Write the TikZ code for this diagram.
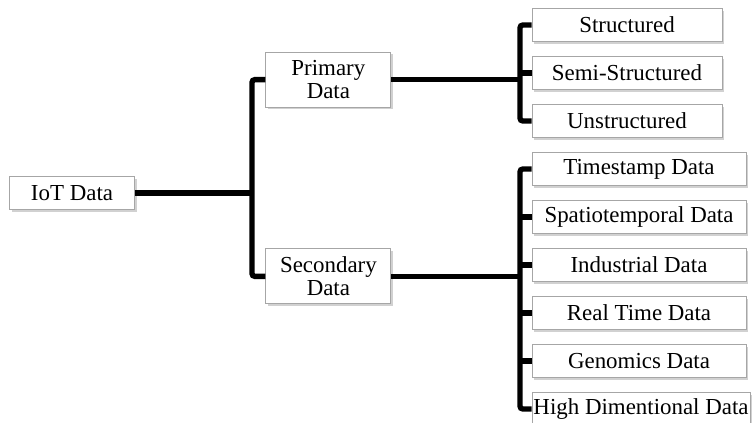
\documentclass[tikz,border=0pt]{standalone}
\usepackage{fontspec}
\setmainfont{Liberation Serif}
\usetikzlibrary{shadows}

\tikzset{
  box/.style={draw=gray!70, fill=white, line width=0.6pt, align=center, inner sep=1pt,
    font=\fontsize{16.3}{16}\selectfont,
    drop shadow={shadow xshift=1.5pt, shadow yshift=-1.5pt, fill=gray!60, opacity=0.6}},
  mid/.style={box, minimum width=3.125cm, minimum height=1.375cm},
  leaf/.style={box, minimum height=0.825cm},
  link/.style={line width=3.8pt, rounded corners=2pt},
}

\begin{document}
\begin{tikzpicture}
                \useasboundingbox (0,0) rectangle (18.8,-10.575);
                \node[box, minimum width=3.125cm, minimum height=0.825cm] (o) at (1.8, -4.825) {IoT Data};
                \node[mid] (ol) at (8.21, -1.99) {Primary\\Data};
                \node[mid] (or) at (8.21, -6.91) {Secondary\\Data};
                \node[leaf, minimum width=4.75cm] (ol1) at (15.675, -0.625) {Structured};
                \node[leaf, minimum width=4.75cm] (ol2) at (15.675, -1.825) {Semi-Structured};
                \node[leaf, minimum width=4.75cm] (ol3) at (15.675, -3.025) {Unstructured};
                \node[leaf, minimum width=5.35cm] (or1) at (15.975, -4.225) {Timestamp Data};
                \node[leaf, minimum width=5.35cm] (or2) at (15.975, -5.425) {Spatiotemporal Data};
                \node[leaf, minimum width=5.35cm] (or3) at (15.975, -6.625) {Industrial Data};
                \node[leaf, minimum width=5.35cm] (or4) at (15.975, -7.825) {Real Time Data};
                \node[leaf, minimum width=5.35cm] (or5) at (15.975, -9.025) {Genomics Data};
                \node[leaf, minimum width=5.45cm] (or6) at (16.025, -10.225) {High Dimentional Data};
                \coordinate (j) at (6.3, -4.825);
                \coordinate (jl) at (13.0, -1.99);
                \coordinate (jr) at (13.0, -6.91);
                \draw[link] (o) -- (j);
                \draw[link] (ol) -| (j) |- (or);
                \draw[link] (ol) -- (jl);
                \draw[link] (ol1) -| (jl) |- (ol3);
                \draw[link] (ol2) -- (ol2 -| jl);
                \draw[link] (or) -- (jr);
                \draw[link] (or1) -| (jr) |- (or6);
                \foreach \n in {or2, or3, or4, or5}
                    \draw[link] (\n) -- (\n -| jr);
            \end{tikzpicture}
\end{document}
